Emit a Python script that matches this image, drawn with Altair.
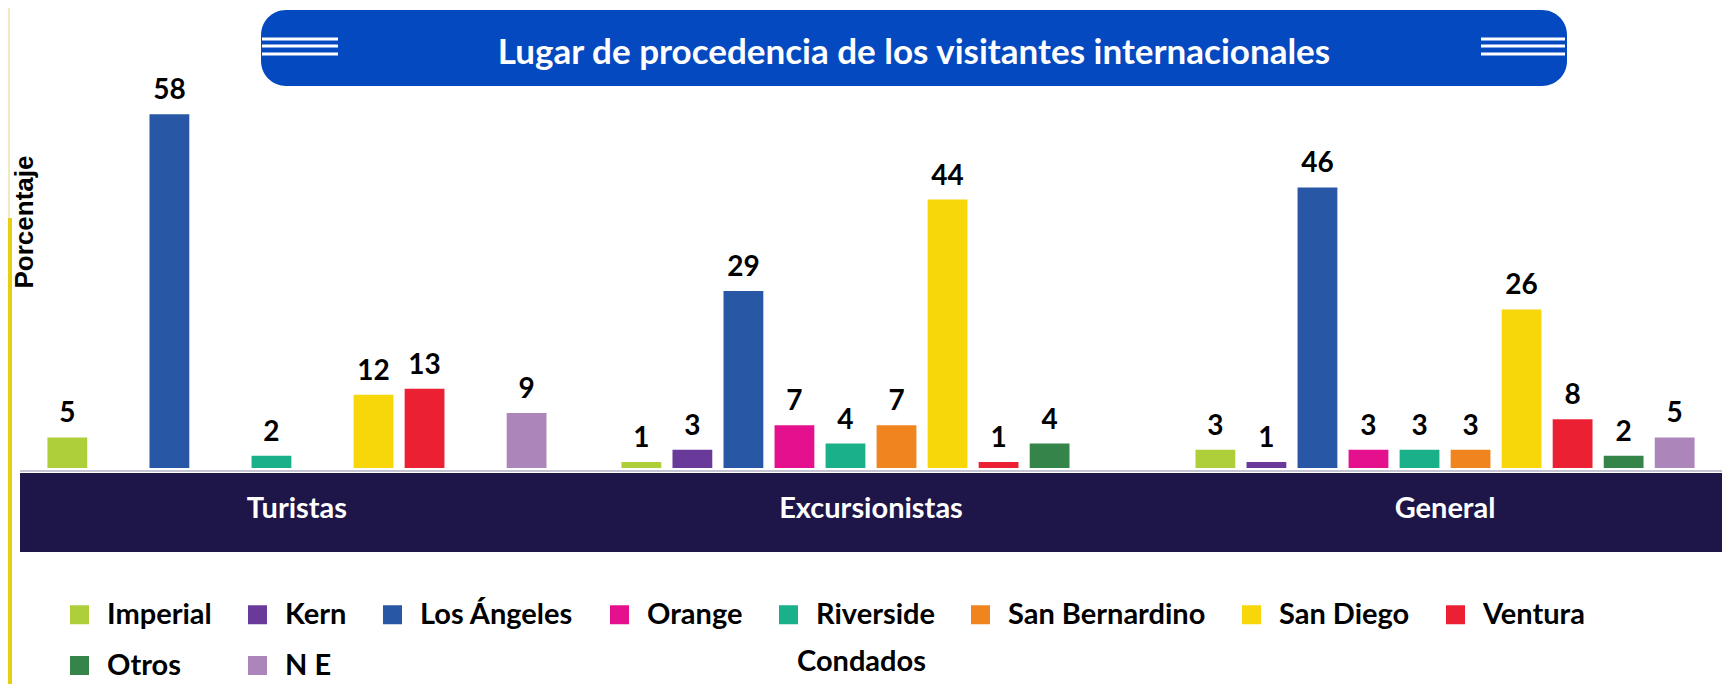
import altair as alt
import pandas as pd

# ---------------- data ----------------
grupos = ["Turistas", "Excursionistas", "General"]
condados = ["Imperial", "Kern", "Los Ángeles", "Orange", "Riverside",
            "San Bernardino", "San Diego", "Ventura", "Otros", "N E"]
turistas = [5, None, 58, None, 2, None, 12, 13, None, 9]
excursionistas = [1, 3, 29, 7, 4, 7, 44, 1, 4, None]
general = [3, 1, 46, 3, 3, 3, 26, 8, 2, 5]
colores = ["#AFCF3A", "#6A3A9A", "#2857A5", "#E5108E", "#19B08A",
           "#F08520", "#F7D60A", "#EC2033", "#35854A", "#AC85BB"]
titulo = "Lugar  de procedencia de los visitantes internacionales"
titulo_y = "Porcentaje"
titulo_x = "Condados"

rows = []
for g, serie in zip(grupos, [turistas, excursionistas, general]):
    for c, v in zip(condados, serie):
        if v is not None:
            rows.append({"grupo": g, "condado": c, "valor": v})
df = pd.DataFrame(rows)

W, H = 1702, 542
FONT = "Lato"
one = alt.Data(values=[{}])

x_enc = alt.X("grupo:N", sort=grupos,
              scale=alt.Scale(domain=grupos, paddingInner=0.111, paddingOuter=0.038),
              axis=None)
xoff = alt.XOffset("condado:N", sort=condados,
                   scale=alt.Scale(domain=condados, paddingInner=0.22, paddingOuter=0.11))
y_enc = alt.Y("valor:Q", scale=alt.Scale(domain=[-13.77, 75.08], nice=False), axis=None)

# dark band under the bars
band = alt.Chart(one).mark_rect(color="#1E1649").encode(
    x=alt.value(0), x2=alt.value(W), y=alt.value(463), y2=alt.value(H))
base_line = alt.Chart(one).mark_rule(color="#C4C4D4", strokeWidth=2).encode(
    x=alt.value(0), x2=alt.value(W), y=alt.value(461))

bars = alt.Chart(df).mark_bar().encode(
    x=x_enc, xOffset=xoff, y=y_enc,
    color=alt.Color("condado:N", sort=condados, title=None,
                    scale=alt.Scale(domain=condados, range=colores),
                    legend=alt.Legend(orient="none", legendX=45, legendY=590,
                                      direction="horizontal", columns=8,
                                      symbolType="square", symbolSize=361,
                                      symbolStrokeWidth=0, symbolOpacity=1,
                                      labelFont=FONT, labelFontSize=29,
                                      labelFontWeight="bold", labelColor="black",
                                      labelLimit=0, labelOffset=13,
                                      columnPadding=31, rowPadding=21)))

labels = alt.Chart(df).mark_text(font=FONT, fontSize=28, fontWeight="bold",
                                 color="black", baseline="alphabetic", dy=-15).encode(
    x=x_enc, xOffset=xoff, y=y_enc, text="valor:Q")

group_labels = alt.Chart(pd.DataFrame({"grupo": grupos})).mark_text(
    font=FONT, fontSize=29, fontWeight="bold", color="white", baseline="middle").encode(
    x=x_enc, y=alt.value(499), text="grupo:N")

# axis titles drawn as text
ytitle = alt.Chart(one).mark_text(font="Liberation Sans", fontSize=26, fontWeight="bold",
                                  color="black", angle=270, align="center",
                                  baseline="middle").encode(
    x=alt.value(5), y=alt.value(212), text=alt.value(titulo_y))
xtitle = alt.Chart(one).mark_text(font=FONT, fontSize=29, fontWeight="bold",
                                  color="black", align="left", baseline="middle").encode(
    x=alt.value(777), y=alt.value(652), text=alt.value(titulo_x))

# title banner
banner = alt.Chart(one).mark_rect(color="#0549C0", cornerRadius=25).encode(
    x=alt.value(241), x2=alt.value(1547), y=alt.value(0), y2=alt.value(76))
stripes = []
for yy in [29, 36, 44]:
    stripes.append(alt.Chart(one).mark_rule(color="white", strokeWidth=3).encode(
        x=alt.value(242), x2=alt.value(318), y=alt.value(yy)))
    stripes.append(alt.Chart(one).mark_rule(color="white", strokeWidth=3).encode(
        x=alt.value(1461), x2=alt.value(1545), y=alt.value(yy)))
title_txt = alt.Chart(one).mark_text(font=FONT, fontSize=35, fontWeight="bold",
                                     color="white", baseline="middle", align="center").encode(
    x=alt.value(894), y=alt.value(43), text=alt.value(titulo))

# slide edge strip on the left
strip_top = alt.Chart(one).mark_rect(color="#EFEAC0").encode(
    x=alt.value(-12), x2=alt.value(-10), y=alt.value(-2), y2=alt.value(208))
strip_bot = alt.Chart(one).mark_rect(color="#E6CF10").encode(
    x=alt.value(-12), x2=alt.value(-8), y=alt.value(208), y2=alt.value(H + 140))

chart = alt.layer(band, base_line, bars, labels, group_labels, ytitle, xtitle,
                  banner, *stripes, title_txt, strip_top, strip_bot).properties(
    width=W, height=H,
    autosize=alt.AutoSizeParams(type="none"),
    padding={"left": 12, "top": 2, "right": 0, "bottom": 132},
).configure_view(strokeWidth=0)

chart.save("out.html", embed_options={"renderer": "svg", "actions": False})
